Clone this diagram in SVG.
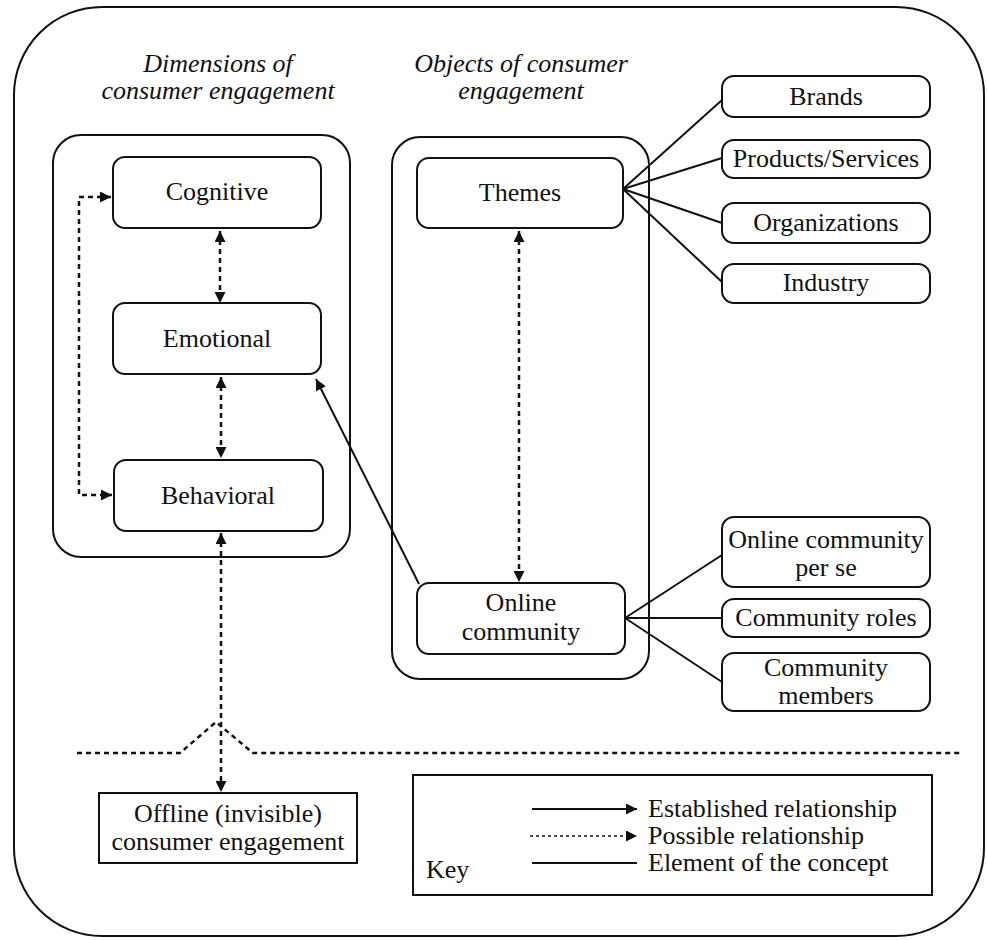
<svg xmlns="http://www.w3.org/2000/svg" width="987" height="940" viewBox="0 0 987 940" font-family="'Liberation Serif', 'DejaVu Serif', serif">
  <style>
    text { font-family: 'Liberation Serif', 'DejaVu Serif', serif; font-size: 26px; fill: #111; text-anchor: middle; }
    .head { font-style: italic; }
    .left { text-anchor: start; }
    .box { fill: #fff; stroke: #111; stroke-width: 2; }
    .frame { fill: none; stroke: #111; stroke-width: 2; }
    .solid { fill: none; stroke: #111; stroke-width: 2; }
    .dash { fill: none; stroke: #111; stroke-width: 2.5; stroke-dasharray: 5 4; }
    .dot { fill: none; stroke: #111; stroke-width: 1.6; stroke-dasharray: 3 3; }
  </style>
  <defs>
    <marker id="arrow" viewBox="0 0 10 10" refX="10" refY="5" markerUnits="userSpaceOnUse" markerWidth="13" markerHeight="11" orient="auto-start-reverse">
      <path d="M0,0 L10,5 L0,10 z" fill="#111"/>
    </marker>
  </defs>

  <!-- outer frame -->
  <rect class="frame" x="14" y="7" width="970" height="929" rx="88"/>

  <!-- column headings -->
  <g id="heading-dimensions">
    <text class="head" x="218" y="72">Dimensions of</text>
    <text class="head" x="218" y="99">consumer engagement</text>
  </g>
  <g id="heading-objects">
    <text class="head" x="521" y="72">Objects of consumer</text>
    <text class="head" x="521" y="99">engagement</text>
  </g>

  <!-- group containers -->
  <g id="dimensions-group">
    <rect class="frame" x="53" y="135" width="297" height="422" rx="28"/>
  </g>
  <g id="objects-group">
    <rect class="frame" x="392" y="137" width="257" height="542" rx="28"/>
  </g>

  <!-- connectors -->
  <g id="connectors">
    <!-- dimensions: possible relationships -->
    <path class="dash" d="M111,197 L79,197 L79,495 L112,495" marker-start="url(#arrow)" marker-end="url(#arrow)"/>
    <line class="dash" x1="220" y1="231" x2="220" y2="303" marker-start="url(#arrow)" marker-end="url(#arrow)"/>
    <line class="dash" x1="221" y1="377" x2="221" y2="458" marker-start="url(#arrow)" marker-end="url(#arrow)"/>
    <line class="dash" x1="221" y1="533" x2="221" y2="792" marker-start="url(#arrow)" marker-end="url(#arrow)"/>
    <!-- themes / online community -->
    <line class="dash" x1="519" y1="231" x2="519" y2="582" marker-start="url(#arrow)" marker-end="url(#arrow)"/>
    <!-- established relationship -->
    <line class="solid" x1="419" y1="584" x2="316" y2="379" marker-end="url(#arrow)"/>
    <!-- elements of themes -->
    <line class="solid" x1="623" y1="189" x2="722" y2="100"/>
    <line class="solid" x1="623" y1="189" x2="722" y2="158"/>
    <line class="solid" x1="623" y1="189" x2="722" y2="223"/>
    <line class="solid" x1="623" y1="189" x2="722" y2="282"/>
    <!-- elements of online community -->
    <line class="solid" x1="625" y1="618" x2="722" y2="555"/>
    <line class="solid" x1="625" y1="618" x2="722" y2="618"/>
    <line class="solid" x1="625" y1="618" x2="722" y2="682"/>
    <!-- online / offline divide -->
    <path class="dash" d="M77,753 L180,753 L216,722 L253,753 L963,753"/>
  </g>

  <!-- dimension nodes -->
  <g id="cognitive">
    <rect class="box" x="113" y="157" width="208" height="71" rx="12"/>
    <text x="217" y="200">Cognitive</text>
  </g>
  <g id="emotional">
    <rect class="box" x="113" y="303" width="208" height="71" rx="12"/>
    <text x="217" y="347">Emotional</text>
  </g>
  <g id="behavioral">
    <rect class="box" x="114" y="460" width="209" height="71" rx="12"/>
    <text x="218" y="504">Behavioral</text>
  </g>

  <!-- object nodes -->
  <g id="themes">
    <rect class="box" x="417" y="158" width="206" height="70" rx="12"/>
    <text x="520" y="201">Themes</text>
  </g>
  <g id="online-community">
    <rect class="box" x="417" y="583" width="208" height="71" rx="12"/>
    <text x="521" y="611">Online</text>
    <text x="521" y="640">community</text>
  </g>

  <!-- theme elements -->
  <g id="brands">
    <rect class="box" x="722" y="76" width="208" height="41" rx="12"/>
    <text x="826" y="105">Brands</text>
  </g>
  <g id="products-services">
    <rect class="box" x="722" y="140" width="208" height="38" rx="12"/>
    <text x="826" y="167">Products/Services</text>
  </g>
  <g id="organizations">
    <rect class="box" x="722" y="203" width="208" height="40" rx="12"/>
    <text x="826" y="231">Organizations</text>
  </g>
  <g id="industry">
    <rect class="box" x="722" y="264" width="208" height="39" rx="12"/>
    <text x="826" y="291">Industry</text>
  </g>

  <!-- online community elements -->
  <g id="community-per-se">
    <rect class="box" x="722" y="517" width="208" height="70" rx="12"/>
    <text x="826" y="548">Online community</text>
    <text x="826" y="576">per se</text>
  </g>
  <g id="community-roles">
    <rect class="box" x="722" y="599" width="208" height="38" rx="12"/>
    <text x="826" y="626">Community roles</text>
  </g>
  <g id="community-members">
    <rect class="box" x="722" y="653" width="208" height="58" rx="12"/>
    <text x="826" y="676">Community</text>
    <text x="826" y="704">members</text>
  </g>

  <!-- offline engagement -->
  <g id="offline">
    <rect class="box" x="99" y="793" width="258" height="70"/>
    <text x="228" y="822">Offline (invisible)</text>
    <text x="228" y="850">consumer engagement</text>
  </g>

  <!-- key -->
  <g id="key">
    <rect class="box" x="413" y="775" width="519" height="120"/>
    <text class="left" x="426" y="878">Key</text>
    <line class="solid" x1="532" y1="809" x2="637" y2="809" marker-end="url(#arrow)"/>
    <line class="dot" x1="530" y1="836" x2="637" y2="836" marker-end="url(#arrow)"/>
    <line class="solid" x1="532" y1="863" x2="637" y2="863"/>
    <text class="left" x="648" y="817">Established relationship</text>
    <text class="left" x="648" y="844">Possible relationship</text>
    <text class="left" x="648" y="871">Element of the concept</text>
  </g>
</svg>
